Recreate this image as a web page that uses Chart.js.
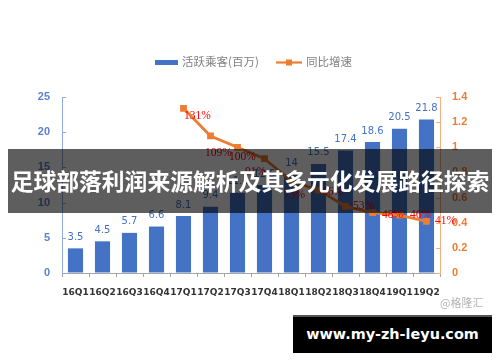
<!DOCTYPE html>
<html><head><meta charset="utf-8">
<script src="https://cdn.jsdelivr.net/npm/chart.js@4/dist/chart.umd.min.js"></script>
<style>
html,body{margin:0;padding:0;background:#fff;}
#wrap{position:relative;width:500px;height:362px;overflow:hidden;}
canvas{position:absolute;left:0;top:0;}
#banner{position:absolute;left:8px;top:149px;width:484px;height:64px;background:rgba(0,0,0,0.63);color:#fff;font-family:"Noto Sans CJK SC",sans-serif;font-weight:bold;font-size:22.8px;line-height:64px;text-align:center;white-space:nowrap;letter-spacing:0px;}
#wm{position:absolute;left:440px;top:294px;font-family:"Noto Sans CJK SC",sans-serif;font-size:11px;color:#b4b4b4;white-space:nowrap;}
#site{position:absolute;left:293px;top:315px;width:199px;height:38px;background:#000;border-top:2px solid #555;box-sizing:border-box;color:#fff;font-family:"DejaVu Sans",sans-serif;font-weight:bold;font-size:14.4px;line-height:35px;text-align:center;white-space:nowrap;}
</style></head>
<body><div id="wrap"><canvas id="c" width="500" height="362"></canvas>
<div id="banner">足球部落利润来源解析及其多元化发展路径探索</div>
<div id="wm">@格隆汇</div>
<div id="site">www.my-zh-leyu.com</div>
</div>
<script>
const categories = ["16Q1","16Q2","16Q3","16Q4","17Q1","17Q2","17Q3","17Q4","18Q1","18Q2","18Q3","18Q4","19Q1","19Q2"];
const activeRiders = [3.5,4.5,5.7,6.6,8.1,9.4,11.4,12.5,14,15.5,17.4,18.6,20.5,21.8];
const yoyGrowth = [null,null,null,null,1.31,1.09,1.00,0.91,0.73,0.66,0.53,0.48,0.46,0.41];
const leftTicks = [0,5,10,15,20,25];
const rightTicks = [0,0.2,0.4,0.6,0.8,1,1.2,1.4];
const seriesNames = ["活跃乘客(百万)","同比增速"];
// label offsets (style only)
const pctLabelOffsets = [null,null,null,null,[14,8],[8,17],[5,10],[-9,13],[3,14],[14,2],[18,0],[20,2],[21,0],[19,0]];

const BLUE = "#4472C4", ORANGE = "#ED7D31";

const labelPlugin = {
  id: "labels",
  afterDatasetsDraw(chart) {
    const ctx = chart.ctx;
    ctx.save();
    const bm = chart.getDatasetMeta(0);
    ctx.font = "10px 'DejaVu Sans'";
    ctx.fillStyle = BLUE;
    ctx.textAlign = "center";
    ctx.textBaseline = "middle";
    bm.data.forEach((el, i) => {
      ctx.fillText(String(activeRiders[i]), el.x, el.y - 11);
    });
    const lm = chart.getDatasetMeta(1);
    ctx.font = "11.5px 'Liberation Serif'";
    ctx.fillStyle = "#FF0000";
    lm.data.forEach((el, i) => {
      const v = yoyGrowth[i];
      if (v == null) return;
      const o = pctLabelOffsets[i] || [0, 0];
      ctx.fillText(Math.round(v * 100) + "%", el.x + o[0], el.y + o[1]);
    });
    ctx.restore();
  },
  afterDraw(chart) {
    const ctx = chart.ctx;
    const a = chart.chartArea;
    const yl = chart.scales.y, yr = chart.scales.y1;
    ctx.save();
    ctx.lineWidth = 1;
    ctx.strokeStyle = "#8FAADC";
    leftTicks.forEach(t => {
      const py = Math.round(yl.getPixelForValue(t)) + 0.5;
      ctx.beginPath(); ctx.moveTo(a.left, py); ctx.lineTo(a.left + 4, py); ctx.stroke();
    });
    ctx.strokeStyle = "#F4B183";
    rightTicks.forEach(t => {
      const py = Math.round(yr.getPixelForValue(t)) + 0.5;
      ctx.beginPath(); ctx.moveTo(a.right - 4, py); ctx.lineTo(a.right, py); ctx.stroke();
    });
    ctx.fillStyle = BLUE;
    ctx.fillRect(155, 60, 23, 5);
    ctx.font = "11.5px 'Noto Sans CJK SC'";
    ctx.fillStyle = "#808080";
    ctx.textAlign = "left";
    ctx.textBaseline = "middle";
    ctx.fillText(seriesNames[0], 182, 62);
    ctx.strokeStyle = ORANGE; ctx.lineWidth = 2.2;
    ctx.beginPath(); ctx.moveTo(276, 62.5); ctx.lineTo(302, 62.5); ctx.stroke();
    ctx.fillStyle = ORANGE;
    ctx.fillRect(286, 59.5, 6, 6);
    ctx.fillStyle = "#808080";
    ctx.fillText(seriesNames[1], 306, 62);
    ctx.restore();
  }
};

new Chart(document.getElementById("c"), {
  data: {
    labels: categories,
    datasets: [
      { type: "bar", label: seriesNames[0], data: activeRiders, backgroundColor: BLUE,
        categoryPercentage: 1, barPercentage: 0.56, yAxisID: "y", order: 2 },
      { type: "line", label: seriesNames[1], data: yoyGrowth, borderColor: ORANGE, backgroundColor: ORANGE,
        borderWidth: 2.8, pointStyle: "rect", pointRadius: 4.8, pointBackgroundColor: ORANGE, pointBorderWidth: 0,
        tension: 0, yAxisID: "y1", order: 1, spanGaps: false }
    ]
  },
  options: {
    responsive: false, animation: false,
    layout: { padding: { top: 97, left: 0, right: 0, bottom: 0 } },
    plugins: { legend: { display: false }, tooltip: { enabled: false } },
    scales: {
      x: {
        offset: true,
        grid: { offset: true, drawOnChartArea: false, tickLength: 4, color: "#A6A6A6" },
        border: { color: "#A6A6A6" },
        ticks: { color: "#333", font: { family: "DejaVu Sans", weight: "bold", size: 9 }, padding: 10, maxRotation: 0, autoSkip: false },
        afterFit(s) { s.height = 89; }
      },
      y: {
        position: "left", min: 0, max: 25,
        afterBuildTicks(s) { s.ticks = leftTicks.map(v => ({ value: v })); },
        grid: { drawOnChartArea: false, drawTicks: false },
        border: { color: "#8FAADC" },
        ticks: { color: "#5B82D0", font: { family: "Liberation Sans", weight: "bold", size: 11 }, padding: 12 },
        afterFit(s) { s.width = 62; }
      },
      y1: {
        position: "right", min: 0, max: 1.4,
        afterBuildTicks(s) { s.ticks = rightTicks.map(v => ({ value: v })); },
        grid: { drawOnChartArea: false, drawTicks: false },
        border: { color: "#F4B183" },
        ticks: { color: ORANGE, font: { family: "Liberation Sans", weight: "bold", size: 11 }, padding: 12,
          callback: v => String(Math.round(v * 10) / 10) },
        afterFit(s) { s.width = 60; }
      }
    }
  },
  plugins: [labelPlugin]
});
</script></body></html>
